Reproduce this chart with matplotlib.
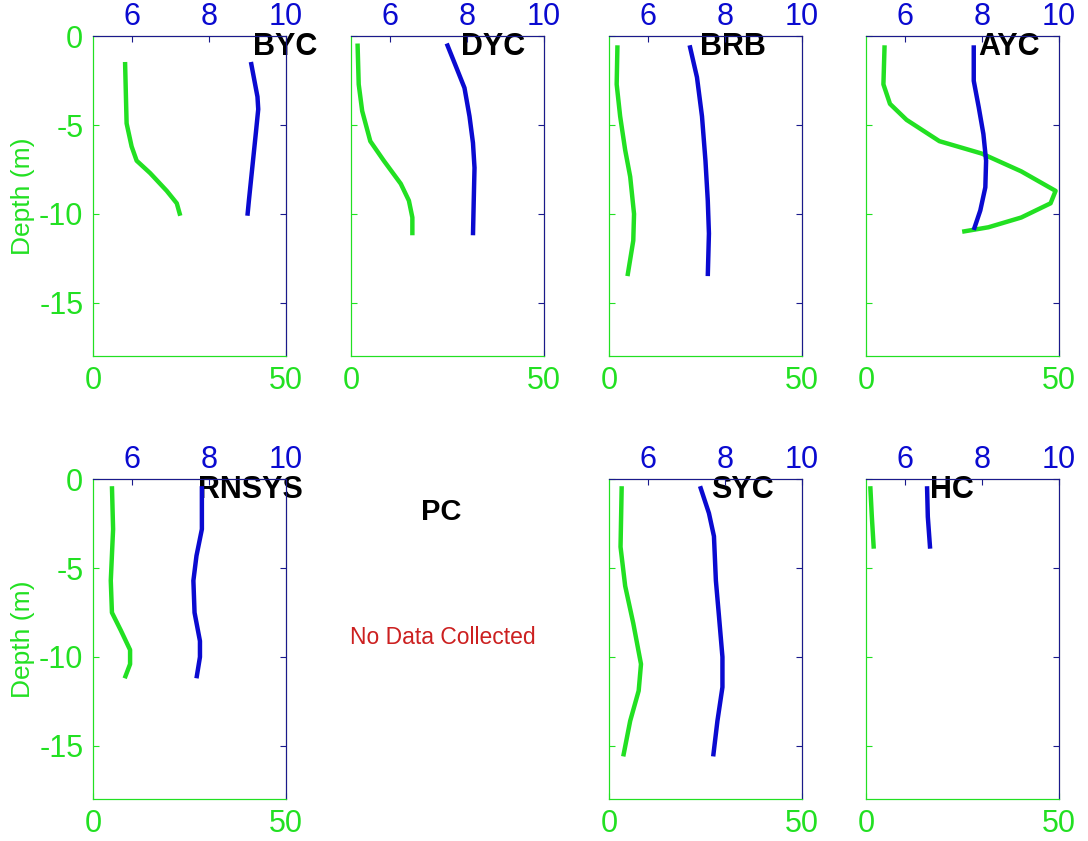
import matplotlib
matplotlib.use("Agg")
import matplotlib.pyplot as plt

plt.rcParams['font.family'] = ['Liberation Sans', 'DejaVu Sans']
plt.rcParams['axes.unicode_minus'] = False

green = '#22e022'
blue = '#0a0ad0'
navy = '#1a1a8c'

# station profiles: depth (m), green variable (0-50 scale), blue variable (5-10 scale)
byc_depth_g = [-1.44, -4.9, -6.2, -7.0, -7.7, -8.7, -9.4, -10.1]
byc_green = [8.3, 8.7, 10.0, 11.3, 14.8, 19.1, 21.7, 22.6]
byc_depth_b = [-1.44, -3.4, -4.1, -5.4, -7.3, -9.2, -10.1]
byc_blue = [9.09, 9.26, 9.28, 9.22, 9.13, 9.04, 9.0]

dyc_depth_g = [-0.4, -2.7, -4.2, -5.9, -7.0, -8.3, -9.25, -10.2, -11.2]
dyc_green = [1.7, 2.0, 2.9, 5.0, 8.5, 12.9, 15.0, 15.9, 15.9]
dyc_depth_b = [-0.4, -1.7, -2.9, -4.5, -6.0, -7.4, -9.25, -11.2]
dyc_blue = [7.48, 7.72, 7.94, 8.07, 8.16, 8.2, 8.18, 8.16]

brb_depth_g = [-0.5, -2.7, -4.5, -6.4, -7.9, -10.0, -11.5, -13.5]
brb_green = [2.2, 2.0, 2.9, 4.2, 5.5, 6.5, 6.3, 4.8]
brb_depth_b = [-0.5, -2.3, -4.5, -7.0, -9.25, -11.1, -13.5]
brb_blue = [7.09, 7.28, 7.41, 7.5, 7.56, 7.59, 7.56]

ayc_depth_g = [-0.5, -2.7, -3.8, -4.7, -5.9, -6.6, -7.6, -8.7, -9.4, -10.2, -10.75, -11.0]
ayc_green = [4.8, 4.5, 6.2, 10.5, 19.0, 30.0, 40.2, 49.1, 47.8, 40.2, 31.7, 24.9]
ayc_depth_b = [-0.5, -2.5, -4.0, -5.5, -7.0, -8.5, -9.8, -10.9]
ayc_blue = [7.79, 7.79, 7.92, 8.04, 8.11, 8.09, 7.96, 7.79]

rnsys_depth_g = [-0.38, -2.8, -5.7, -7.5, -8.5, -9.6, -10.4, -11.2]
rnsys_green = [4.9, 5.2, 4.6, 4.9, 7.2, 9.6, 9.6, 8.2]
rnsys_depth_b = [-0.38, -2.8, -4.3, -5.7, -7.5, -9.1, -10.0, -11.2]
rnsys_blue = [7.82, 7.82, 7.68, 7.6, 7.63, 7.77, 7.77, 7.68]

syc_depth_g = [-0.38, -3.8, -6.0, -8.1, -10.4, -11.9, -13.6, -15.6]
syc_green = [3.3, 3.0, 4.2, 6.3, 8.3, 7.7, 5.5, 3.7]
syc_depth_b = [-0.38, -1.9, -3.2, -5.7, -7.7, -10.0, -11.7, -13.6, -15.6]
syc_blue = [7.36, 7.59, 7.72, 7.77, 7.85, 7.94, 7.94, 7.81, 7.7]

hc_depth_g = [-0.38, -2.1, -3.9]
hc_green = [1.1, 1.5, 2.0]
hc_depth_b = [-0.38, -2.1, -3.9]
hc_blue = [6.58, 6.6, 6.66]

stations = ['BYC', 'DYC', 'BRB', 'AYC', 'RNSYS', 'PC', 'SYC', 'HC']
label_x = [41.5, 28.5, 23.5, 29.0, 27.3, None, 26.5, 16.5]
profiles = [
    (byc_depth_g, byc_green, byc_depth_b, byc_blue),
    (dyc_depth_g, dyc_green, dyc_depth_b, dyc_blue),
    (brb_depth_g, brb_green, brb_depth_b, brb_blue),
    (ayc_depth_g, ayc_green, ayc_depth_b, ayc_blue),
    (rnsys_depth_g, rnsys_green, rnsys_depth_b, rnsys_blue),
    None,
    (syc_depth_g, syc_green, syc_depth_b, syc_blue),
    (hc_depth_g, hc_green, hc_depth_b, hc_blue),
]

fig = plt.figure(figsize=(10.88, 8.41), dpi=100)

lefts = [0.0855, 0.3226, 0.5597, 0.7960]
bottoms = [0.5767, 0.0499]
w = 0.1774
h = 0.3800

for i, name in enumerate(stations):
    row, col = divmod(i, 4)
    if profiles[i] is None:
        fig.text(441 / 1088, 1 - 512 / 841, name, fontsize=21, fontweight='bold',
                 ha='center', va='center', color='black')
        fig.text(443 / 1088, 1 - 638 / 841, 'No Data Collected', fontsize=16.5,
                 ha='center', va='center', color='#cc2020')
        continue

    dg, g, db, b = profiles[i]
    ax = fig.add_axes([lefts[col], bottoms[row], w, h])
    ax.plot(g, dg, color=green, lw=3.2, solid_capstyle='butt')
    ax.set_xlim(0, 50)
    ax.set_ylim(-18, 0)
    ax.set_xticks([0, 50])
    ax.set_yticks([-15, -10, -5, 0])
    ax.tick_params(axis='both', direction='in', colors=green, labelsize=22,
                   length=4, width=0.8, pad=7)
    if col == 0:
        ax.set_ylabel('Depth (m)', color=green, fontsize=19, labelpad=3)
    else:
        ax.tick_params(axis='y', labelleft=False)
    ax.spines['left'].set_color(green)
    ax.spines['bottom'].set_color(green)

    ax2 = ax.twiny()
    ax2.plot(b, db, color=blue, lw=3.2, solid_capstyle='butt')
    ax2.set_xlim(5, 10)
    ax2.set_xticks([6, 8, 10])
    ax2.tick_params(axis='x', direction='in', colors=navy, labelcolor=blue,
                    labelsize=22, length=4, width=0.8, pad=3)
    ax2.yaxis.set_visible(True)
    ax2.yaxis.tick_right()
    ax2.tick_params(axis='y', direction='in', colors=navy, labelright=False,
                    length=4, width=0.8)
    for s in ['top', 'right']:
        ax2.spines[s].set_color(navy)
    ax2.spines['left'].set_color(green)
    ax2.spines['bottom'].set_color(green)

    ax.text(label_x[i], -0.6, name, fontsize=22, fontweight='bold',
            ha='left', va='center', color='black', zorder=5)

fig.savefig('out.png', dpi=100)
